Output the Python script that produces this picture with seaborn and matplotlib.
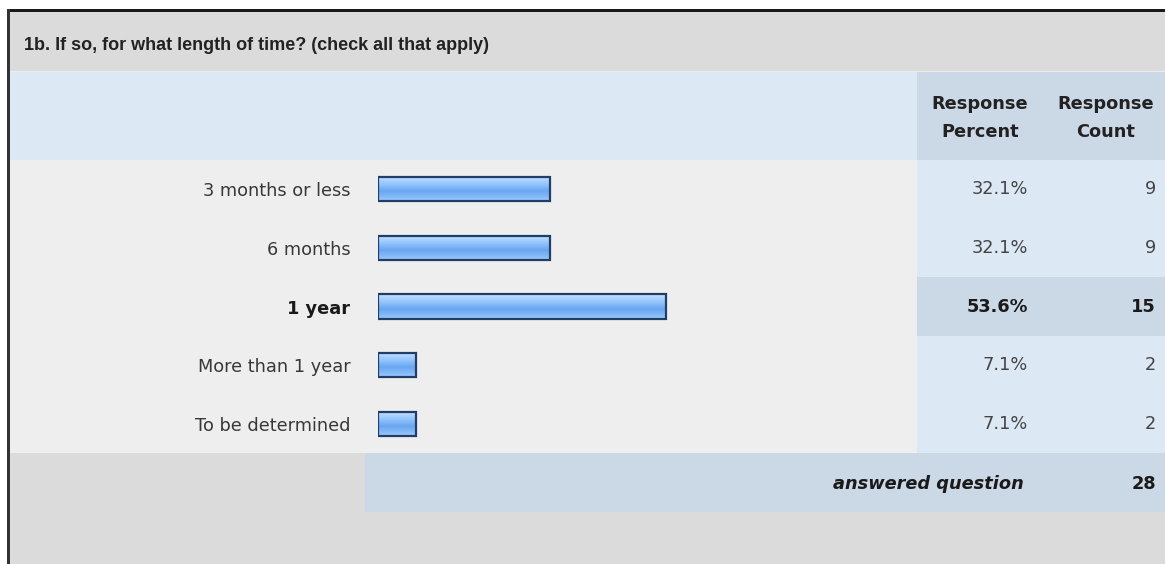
import numpy as np
import pandas as pd
import matplotlib
matplotlib.use("Agg")
import matplotlib.pyplot as plt
import matplotlib.transforms as mtransforms
from matplotlib.patches import Rectangle
from matplotlib.colors import LinearSegmentedColormap
import seaborn as sns

# ---------------- data ----------------
title = "1b. If so, for what length of time? (check all that apply)"
categories = ["3 months or less", "6 months", "1 year", "More than 1 year", "To be determined"]
percents = [32.1, 32.1, 53.6, 7.1, 7.1]
counts = [9, 9, 15, 2, 2]
highlight = "1 year"
col_headers = ["Response\nPercent", "Response\nCount"]
footer_label = "answered question"
answered = 28

# ---------------- figure ----------------
sns.set_theme(style="white")
plt.rcParams["font.family"] = ["DejaVu Sans"]

W, H = 1165, 564
fig = plt.figure(figsize=(W / 100, H / 100), dpi=100)
fig.patch.set_facecolor("white")


def fx(px):
    return px / W


def fy(py):
    return 1 - py / H


def rect(x0, y0, x1, y1, color, z=-2):
    fig.patches.append(Rectangle((fx(x0), fy(y1)), fx(x1) - fx(x0), fy(y0) - fy(y1),
                                 transform=fig.transFigure, facecolor=color,
                                 edgecolor="none", zorder=z))


GRAY = "#dbdbdb"
ROW = "#eeeeee"
LBLUE = "#dde8f5"
DBLUE = "#cbd8e6"
FS = 12.8

# table backgrounds
rect(8, 10, W, H, GRAY)
rect(9, 71, W, 72, "#ececec")
rect(9, 72, 917, 160, LBLUE)
rect(917, 72, W, 160, DBLUE)
rect(9, 160, 917, 453, ROW)
rect(917, 160, W, 453, LBLUE)
rect(9, 453, 365, 512, GRAY)
rect(365, 453, W, 512, DBLUE)
# outer border
rect(7, 9, W, 12, "#1a1a1a", z=-1)
rect(7, 9, 10, H, "#333333", z=-1)

# ---------------- bar axes ----------------
ax = fig.add_axes([fx(378), fy(453), fx(915) - fx(378), fy(160) - fy(453)])
ax.set_zorder(5)
ax.set_facecolor("none")
df = pd.DataFrame({"category": categories, "percent": percents})
sns.barplot(data=df, x="percent", y="category", orient="h", ax=ax,
            width=0.41, color="#7fb4f5", edgecolor="#213f66", linewidth=1.6,
            saturation=1)
ax.set_xlim(0, 100)
ax.set_ylim(4.5, -0.5)

# gradient fill clipped to each bar
cmap = LinearSegmentedColormap.from_list(
    "barg", ["#c6e2ff", "#a6d0ff", "#86bcfb", "#6aa6f0", "#7fb6f8", "#9cc9ff"])
grad = np.linspace(0, 1, 64).reshape(-1, 1)
for p in list(ax.patches):
    x0, y0 = p.get_x(), p.get_y()
    w, h = p.get_width(), p.get_height()
    p.set_facecolor("none")
    p.set_zorder(3)
    im = ax.imshow(grad, cmap=cmap, aspect="auto", origin="upper",
                   extent=(x0, x0 + w, y0 + h, y0), zorder=2,
                   interpolation="bilinear")
    im.set_clip_path(p)
ax.set_xlim(0, 100)
ax.set_ylim(4.5, -0.5)

for s in ax.spines.values():
    s.set_visible(False)
ax.set_xticks([])
ax.set_xlabel("")
ax.set_ylabel("")
ax.tick_params(axis="y", length=0, pad=20, labelsize=FS, labelcolor="#383838")
for lbl in ax.get_yticklabels():
    if lbl.get_text() == highlight:
        lbl.set_fontweight("bold")
        lbl.set_color("#1a1a1a")

# highlighted row on the right side
hi = categories.index(highlight)
trans = mtransforms.blended_transform_factory(fig.transFigure, ax.transData)
fig.patches.append(Rectangle((fx(917), hi - 0.5), 1 - fx(917), 1.0,
                             transform=trans, facecolor=DBLUE, edgecolor="none",
                             zorder=-1.5))

# values
for i, (cat, pct, cnt) in enumerate(zip(categories, percents, counts)):
    bold = cat == highlight
    kw = dict(transform=trans, va="center", ha="right", fontsize=FS,
              fontweight="bold" if bold else "normal",
              color="#1a1a1a" if bold else "#444444")
    ax.text(fx(1028), i, f"{pct:.1f}%", clip_on=False, **kw)
    ax.text(fx(1156), i, f"{cnt}", clip_on=False, **kw)

# ---------------- header & footer text ----------------
fig.text(fx(24), fy(45), title, ha="left", va="center", fontsize=13,
         fontweight="bold", color="#222222", family=["Liberation Sans", "DejaVu Sans"])
for xc, txt in zip([980, 1106], col_headers):
    fig.text(fx(xc), fy(118), txt, ha="center", va="center", fontsize=FS,
             fontweight="bold", color="#222222", linespacing=1.7)

fig.text(fx(1024), fy(484), footer_label, ha="right", va="center", fontsize=FS,
         fontweight="bold", fontstyle="italic", color="#1a1a1a")
fig.text(fx(1156), fy(484), f"{answered}", ha="right", va="center", fontsize=FS,
         fontweight="bold", color="#1a1a1a")

fig.savefig("out.png", dpi=100, facecolor=fig.get_facecolor())
